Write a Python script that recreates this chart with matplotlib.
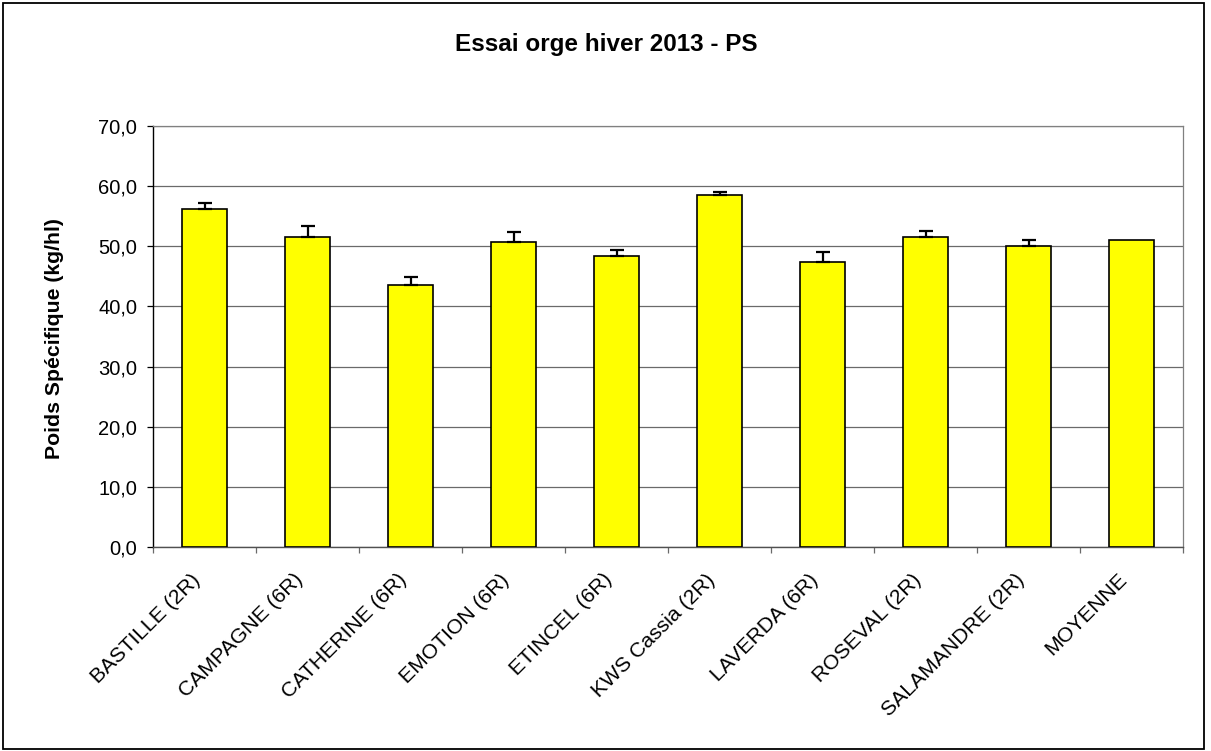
import matplotlib
matplotlib.use("Agg")
import matplotlib.pyplot as plt
import matplotlib.transforms as mtransforms
from matplotlib.patches import Rectangle
import numpy as np

categories = ["BASTILLE (2R)", "CAMPAGNE (6R)", "CATHERINE (6R)", "EMOTION (6R)",
              "ETINCEL (6R)", "KWS Cassia (2R)", "LAVERDA (6R)", "ROSEVAL (2R)",
              "SALAMANDRE (2R)", "MOYENNE"]
values = [56.2, 51.6, 43.6, 50.7, 48.4, 58.5, 47.4, 51.6, 50.0, 51.0]
errors = [1.0, 1.7, 1.3, 1.6, 1.0, 0.6, 1.7, 1.0, 1.0]  # no error bar on MOYENNE
yticks = [0, 10, 20, 30, 40, 50, 60, 70]
title = "Essai orge hiver 2013 - PS"
ylabel = "Poids Spécifique (kg/hl)"

plt.rcParams['font.family'] = ['Liberation Sans', 'DejaVu Sans']

W, H = 1211, 751
fig = plt.figure(figsize=(W / 100, H / 100), dpi=100)
ax = fig.add_axes([153 / W, 1 - 547 / H, (1183 - 153) / W, (547 - 126) / H])

x = np.arange(len(categories))
ax.bar(x, values, width=0.43, color="#FFFF00", edgecolor="black", linewidth=1.2, zorder=3)
n = len(errors)
ax.errorbar(x[:n], values[:n], yerr=[np.zeros(n), errors], fmt="none", ecolor="black",
            elinewidth=1.6, capsize=5.3, capthick=1.6, zorder=4)

ax.set_xlim(-0.5, len(categories) - 0.5)
ax.set_ylim(0, 70)
ax.set_yticks(yticks)
ax.set_yticklabels([f"{v:.1f}".replace(".", ",") for v in yticks], fontsize=14.5)
ax.yaxis.grid(True, color="#6a6a6a", linewidth=0.9, zorder=0)
ax.set_axisbelow(True)

ax.set_xticks(x)
ax.set_xticks(np.arange(-0.5, len(categories)), minor=True)
ax.tick_params(axis="x", which="major", length=0, pad=21.5)
ax.tick_params(axis="x", which="minor", length=4.5, width=0.9, color="#6a6a6a")
ax.tick_params(axis="y", which="major", length=4.5, width=0.9, pad=7, color="black")
ax.set_xticklabels(categories, fontsize=15.2, rotation=45, ha="right", va="center",
                   rotation_mode="anchor")
offset = mtransforms.ScaledTranslation(-7 / 100, 0, fig.dpi_scale_trans)
for lab in ax.get_xticklabels():
    lab.set_transform(lab.get_transform() + offset)

for side in ["top", "right"]:
    ax.spines[side].set_color("#808080")
    ax.spines[side].set_linewidth(0.9)
ax.spines["left"].set_color("black")
ax.spines["left"].set_linewidth(1.0)
ax.spines["bottom"].set_color("#505050")
ax.spines["bottom"].set_linewidth(1.0)

fig.text(606 / W, 1 - 45 / H, title, ha="center", va="center", fontsize=17.5,
         fontweight="bold")
fig.text(55 / W, 1 - 339 / H, ylabel, ha="center", va="center", rotation=90,
         fontsize=15.3, fontweight="bold")

fig.patches.append(Rectangle((3 / W, 1 - 749 / H), (1204 - 3) / W, (749 - 3) / H,
                             transform=fig.transFigure, fill=False, edgecolor="black",
                             linewidth=1.3))

fig.savefig("out.png", dpi=100)
